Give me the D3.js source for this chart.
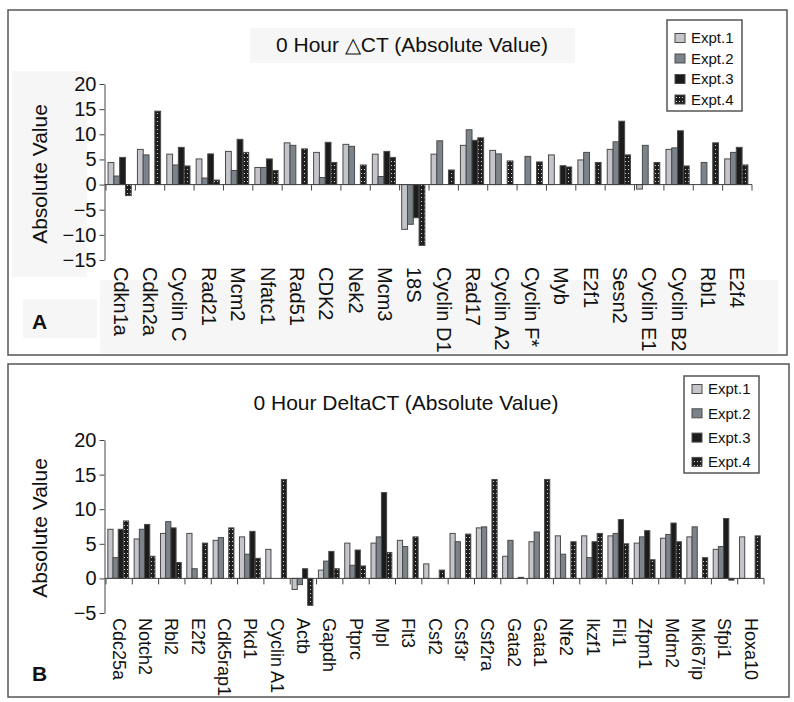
<!DOCTYPE html>
<html><head><meta charset="utf-8">
<script src="https://cdn.jsdelivr.net/npm/d3@7"></script>
<style>body{margin:0;background:#fff}svg{display:block;font-family:"Liberation Sans",Arial,sans-serif}</style>
</head><body>
<svg id="c" width="794" height="702"></svg>
<script>
// ---------- Data ----------
const seriesNames = ["Expt.1", "Expt.2", "Expt.3", "Expt.4"];

const catsA = ["Cdkn1a","Cdkn2a","Cyclin C","Rad21","Mcm2","Nfatc1","Rad51","CDK2","Nek2","Mcm3","18S","Cyclin D1","Rad17","Cyclin A2","Cyclin F*","Myb","E2f1","Sesn2","Cyclin E1","Cyclin B2","Rbl1","E2f4"];
const a1 = [4.4, 7.0, 6.05, 5.1, 6.6, 3.4, 8.3, 6.4, 8.0, 6.05, -8.9, 6.05, 7.8, 6.8, null, 5.9, 4.9, 7.0, -0.9, 7.0, null, 5.1];
const a2 = [1.7, 5.9, 3.9, 1.3, 2.8, 3.4, 7.8, 1.4, 7.6, 1.6, -7.9, 8.7, 10.9, 6.1, 5.6, null, 6.4, 8.5, 7.8, 7.3, 4.4, 6.4];
const a3 = [5.4, null, 7.4, 6.1, 9.0, 5.1, null, 8.4, null, 6.6, -6.6, null, 8.8, null, null, 3.75, null, 12.6, null, 10.7, null, 7.4];
const a4 = [-2.2, 14.6, 3.7, 0.9, 6.4, 2.8, 7.1, 4.4, 3.9, 5.4, -12.1, 2.9, 9.3, 4.7, 4.5, 3.5, 4.4, 5.9, 4.4, 3.7, 8.3, 3.9];
const ticksA = [-15, -10, -5, 0, 5, 10, 15, 20];

const catsB = ["Cdc25a","Notch2","Rbl2","E2f2","Cdk5rap1","Pkd1","Cyclin A1","Actb","Gapdh","Ptprc","Mpl","Flt3","Csf2","Csf3r","Csf2ra","Gata2","Gata1","Nfe2","Ikzf1","Fli1","Zfpm1","Mdm2","Mki67ip","Sfpi1","Hoxa10"];
const b1 = [7.1, 5.7, 6.5, 6.5, 5.5, 6.0, 4.2, -1.6, 1.2, 5.1, 5.1, 5.5, 2.1, 6.5, 7.3, 3.2, 5.3, 6.15, 6.15, 6.15, 5.1, 5.8, 6.0, 4.2, 6.0];
const b2 = [3.0, 7.1, 8.2, 1.4, 5.9, 3.5, null, -0.9, 2.5, 1.9, 6.0, 4.6, null, 5.3, 7.45, 5.5, 6.7, 3.5, 3.0, 6.5, 6.0, 6.35, 7.45, 4.6, null];
const b3 = [7.1, 7.8, 7.3, null, null, 6.8, null, 1.4, 3.9, 4.1, 12.4, null, null, null, null, null, null, null, 5.3, 8.5, 6.9, 8.0, null, 8.65, null];
const b4 = [8.3, 3.2, 2.3, 5.1, 7.3, 2.9, 14.3, -3.9, 1.4, 1.8, 3.75, 6.0, 1.2, 6.4, 14.3, 0.15, 14.3, 5.3, 6.5, 5.0, 2.7, 5.3, 3.0, -0.25, 6.15];
const ticksB = [-5, 0, 5, 10, 15, 20];

const titleA = "0 Hour \u25B3CT (Absolute Value)";
const titleB = "0 Hour DeltaCT (Absolute Value)";
const yLabel = "Absolute Value";

// ---------- Drawing ----------
const svg = d3.select("#c");
const defs = svg.append("defs");
const pat = defs.append("pattern").attr("id","dots").attr("patternUnits","userSpaceOnUse")
  .attr("width",3).attr("height",4);
pat.append("rect").attr("width",3).attr("height",4).attr("fill","#1e1e1e");
pat.append("rect").attr("x",1).attr("y",1).attr("width",1).attr("height",1).attr("fill","#d8d8d8");

const fills = ["#c3c5cb", "#7c848b", "#1c1c1c", "url(#dots)"];
const strokeC = "#4a4a4a";

function panel(o) {
  const g = svg.append("g");
  (o.boxes || []).forEach(b => g.append("rect").attr("x",b[0]).attr("y",b[1]).attr("width",b[2]).attr("height",b[3]).attr("fill","#f6f6f6"));
  g.append("rect").attr("x",o.frame[0]).attr("y",o.frame[1]).attr("width",o.frame[2]).attr("height",o.frame[3])
    .attr("fill","none").attr("stroke","#555").attr("stroke-width",1.5);

  const x0 = d3.scaleBand().domain(o.cats).range([o.x0, o.x1]);
  const bw = x0.bandwidth();
  const x1 = d3.scaleBand().domain(seriesNames).range([bw*0.07, bw*0.86]);
  const y = d3.scaleLinear().domain(o.domain).range([o.yBot, o.yTop]);

  o.series.forEach((vals, si) => {
    g.append("g").selectAll("rect").data(vals.map((v,i)=>({v, c:o.cats[i]})).filter(d=>d.v!==null))
      .join("rect")
      .attr("x", d => x0(d.c) + x1(seriesNames[si]))
      .attr("width", x1.bandwidth())
      .attr("y", d => y(Math.max(0,d.v)))
      .attr("height", d => Math.abs(y(d.v)-y(0)))
      .attr("fill", fills[si]).attr("stroke", strokeC).attr("stroke-width",1);
  });

  const ya = g.append("g").attr("transform",`translate(${o.x0-1.5},0)`)
    .call(d3.axisLeft(y).tickValues(o.ticks).tickSize(5).tickPadding(3).tickSizeOuter(0));
  ya.select(".domain").attr("stroke","#444");
  ya.selectAll(".tick line").attr("stroke","#444");
  ya.selectAll(".tick text").attr("font-size",20).attr("fill","#111").attr("font-family","Liberation Sans, Arial, sans-serif");

  const xa = g.append("g").attr("transform",`translate(0,${y(0)})`);
  xa.append("line").attr("x1",o.x0-1.5).attr("x2",o.x1).attr("stroke","#444");
  const bounds = o.cats.map(c=>x0(c)).concat([o.x1]);
  xa.selectAll("line.t").data(bounds).join("line").attr("class","t")
    .attr("x1",d=>d).attr("x2",d=>d).attr("y1",0).attr("y2",6).attr("stroke","#444");

  g.append("g").selectAll("text").data(o.cats).join("text")
    .attr("transform", d => `translate(${x0(d)+bw/2},${o.yBot+o.labelGap}) rotate(90)`)
    .attr("dy","0.35em").attr("font-size",o.labelSize).attr("fill","#111").text(d=>d);

  g.append("text").attr("transform",`translate(40,${o.yLabelY}) rotate(-90)`)
    .attr("text-anchor","middle").attr("dy","0.35em").attr("font-size",21).attr("fill","#111").text(yLabel);

  g.append("text").attr("x",o.titleX).attr("y",o.titleY).attr("text-anchor","middle").attr("dy","0.35em")
    .attr("font-size",21).attr("fill","#111").text(o.title);

  const L = o.legend;
  g.append("rect").attr("x",L.x).attr("y",L.y).attr("width",L.w).attr("height",L.h)
    .attr("fill","#fff").attr("stroke","#555").attr("stroke-width",1.5);
  seriesNames.forEach((s,i) => {
    const cy = L.y0 + i*L.dy;
    g.append("rect").attr("x",L.x+8).attr("y",cy-4.5).attr("width",10).attr("height",9)
      .attr("fill",fills[i]).attr("stroke",strokeC);
    g.append("text").attr("x",L.x+24).attr("y",cy).attr("dy","0.35em").attr("font-size",15).attr("fill","#111").text(s);
  });

  g.append("text").attr("x",o.letter[0]).attr("y",o.letter[1]).attr("font-size",21).attr("font-weight","bold")
    .attr("fill","#111").text(o.letter[2]);
}

panel({
  cats: catsA, series: [a1,a2,a3,a4], domain: [-15,20], ticks: ticksA,
  x0: 106, x1: 752, yBot: 260, yTop: 84, labelSize: 20, labelGap: 7,
  frame: [8, 10, 779, 345],
  boxes: [[250,28,325,35],[12,71,75,206],[100,280,678,73],[23,299,74,39]],
  yLabelY: 174, title: titleA, titleX: 412, titleY: 45,
  legend: {x:667, y:20, w:75, h:91, y0:38, dy:20.5},
  letter: [32, 329, "A"]
});

panel({
  cats: catsB, series: [b1,b2,b3,b4], domain: [-5,20], ticks: ticksB,
  x0: 106, x1: 764, yBot: 613, yTop: 440, labelSize: 18, labelGap: 5,
  frame: [8, 364, 781, 333],
  boxes: [],
  yLabelY: 528, title: titleB, titleX: 406, titleY: 403,
  legend: {x:684, y:376, w:75, h:97, y0:389, dy:24.3},
  letter: [32, 681, "B"]
});
</script>
</body></html>
